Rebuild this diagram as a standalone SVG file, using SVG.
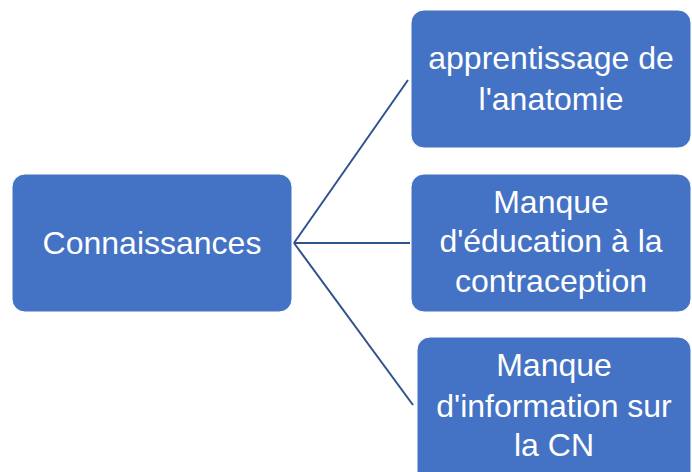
<svg xmlns="http://www.w3.org/2000/svg" width="692" height="472" viewBox="0 0 692 472">
<style>
.box{fill:#4472C4;stroke:#ffffff;stroke-width:1}
.t{font-family:"Liberation Sans",Arial,sans-serif;font-size:32px;fill:#ffffff;text-anchor:middle}
.c{stroke:#2F528F;stroke-width:2;fill:none}
</style>
<rect width="692" height="472" fill="#ffffff"/>
<g id="connectors">
<line class="c" x1="294" y1="243" x2="408" y2="80"/>
<line class="c" x1="294" y1="243" x2="410" y2="243"/>
<line class="c" x1="294" y1="243" x2="413" y2="405"/>
</g>
<g id="n-connaissances">
<rect class="box" x="12" y="174" width="280" height="138" rx="13"/>
<text class="t" x="152" y="254">Connaissances</text>
</g>
<g id="n-anatomie">
<rect class="box" x="411" y="10" width="280" height="138" rx="13"/>
<text class="t" x="551" y="69">apprentissage de</text>
<text class="t" x="551" y="110">l'anatomie</text>
</g>
<g id="n-contraception">
<rect class="box" x="411" y="174" width="280" height="138" rx="13"/>
<text class="t" x="551" y="213">Manque</text>
<text class="t" x="551" y="252">d'éducation à la</text>
<text class="t" x="551" y="292">contraception</text>
</g>
<g id="n-cn">
<rect class="box" x="417" y="337" width="274" height="150" rx="13"/>
<text class="t" x="554" y="376">Manque</text>
<text class="t" x="554" y="417">d'information sur</text>
<text class="t" x="554" y="456">la CN</text>
</g>
</svg>
